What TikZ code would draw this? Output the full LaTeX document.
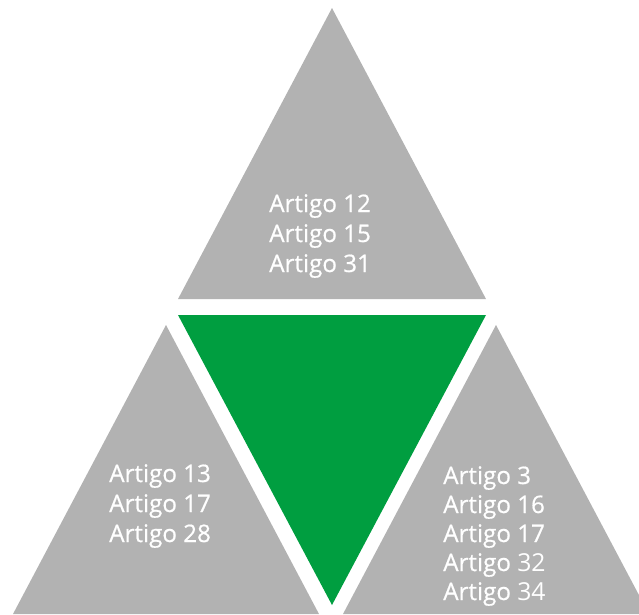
\documentclass[tikz,border=0pt]{standalone}
\usepackage{fontspec}
\setmainfont{Open Sans}
\newfontfamily\artfont{Open Sans}[FakeBold=0.6]
\usetikzlibrary{positioning}
\definecolor{artgray}{HTML}{B2B2B2}
\definecolor{artgreen}{HTML}{009E40}
\newcommand\thinnum[1]{{\normalfont\fontsize{17.6}{21}\selectfont #1}}

\begin{document}
\begin{tikzpicture}[x=0.025cm, y=-0.025cm,
    artigo/.style={anchor=base west, inner sep=0pt, text=white, font=\artfont\fontsize{17.2}{21}\selectfont}]
        \useasboundingbox (0,0) rectangle (639,614);
        \begin{scope}
          \clip (0,0) rectangle (639,614);
          % grey triangles
          \fill[artgray] (332,8) -- (486,299) -- (178,299) -- cycle;
          \fill[artgray] (166,325) -- (319,614) -- (13,614) -- cycle;
          \fill[artgray] (496,325) -- (649,614) -- (343,614) -- cycle;
          % green triangle
          \fill[artgreen] (178,315) -- (486,315) -- (332,605) -- cycle;
        \end{scope}
        % labels
        \foreach \n [count=\i] in {12,15,31}{
          \node[artigo] (top\i) at (269,{212+30*(\i-1)}) {Artigo \n};
        }
        \foreach \n [count=\i] in {13,17,28}{
          \node[artigo] (left\i) at (109,{482+30*(\i-1)}) {Artigo \n};
        }
        \foreach \n [count=\i] in {3,16,17,\thinnum{32},\thinnum{34}}{
          \node[artigo] (right\i) at (443,{484+29*(\i-1)}) {Artigo \n};
        }
      \end{tikzpicture}
\end{document}
